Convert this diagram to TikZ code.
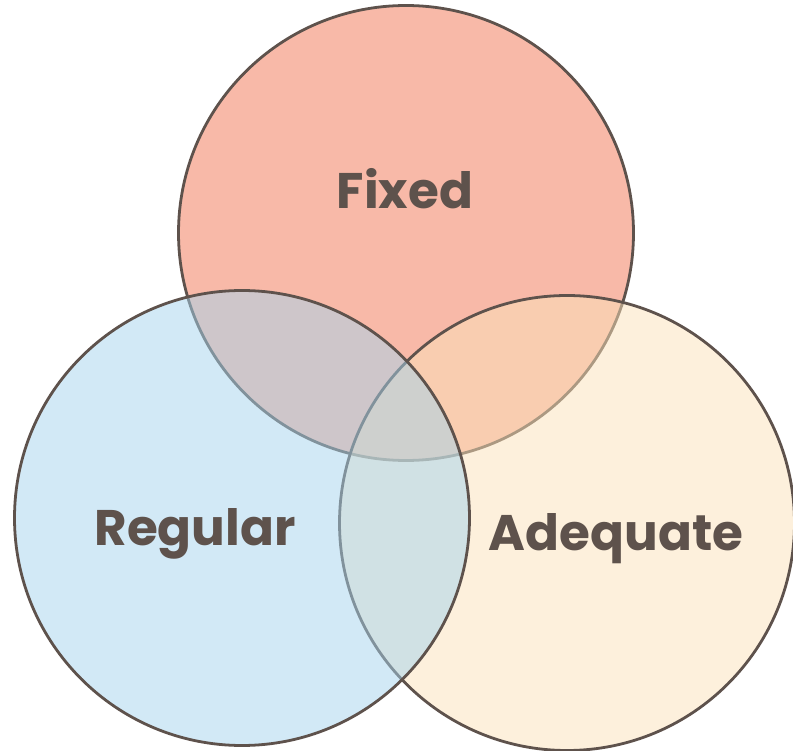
\documentclass[tikz,border=0pt]{standalone}
\usepackage{fontspec}
\setmainfont{Poppins}
\usepackage{xcolor}
\usetikzlibrary{positioning}

\definecolor{fixedred}{RGB}{248,185,168}
\definecolor{adequatecream}{RGB}{251,225,185}
\definecolor{regularblue}{RGB}{165,211,237}
\definecolor{edgegray}{RGB}{94,82,76}

\begin{document}
\begin{tikzpicture}[
    x=1pt, y=-1pt,
    set/.style = {
        circle,
        draw=edgegray,
        line width=2.8pt,
        minimum size=455pt,
        inner sep=0pt
    },
    fixedset/.style    = {set, fill=fixedred},
    adequateset/.style = {set, fill=adequatecream, fill opacity=0.5},
    regularset/.style  = {set, fill=regularblue, fill opacity=0.5},
    setlabel/.style    = {font=\fontsize{50}{56}\selectfont\bfseries, text=edgegray}
]
\useasboundingbox (0,0) rectangle (793,751);

% Sets (drawn bottom to top)
\node[fixedset]    (fixed)    at (406,233) {};
\node[adequateset] (adequate) at (567,523) {};
\node[regularset]  (regular)  at (242,518) {};

% Labels
\node[setlabel] (fixedlbl)    at (405,189) {Fixed};
\node[setlabel] (regularlbl)  at (195,534) {Regular};
\node[setlabel] (adequatelbl) at (616,539) {Adequate};

\end{tikzpicture}
\end{document}
